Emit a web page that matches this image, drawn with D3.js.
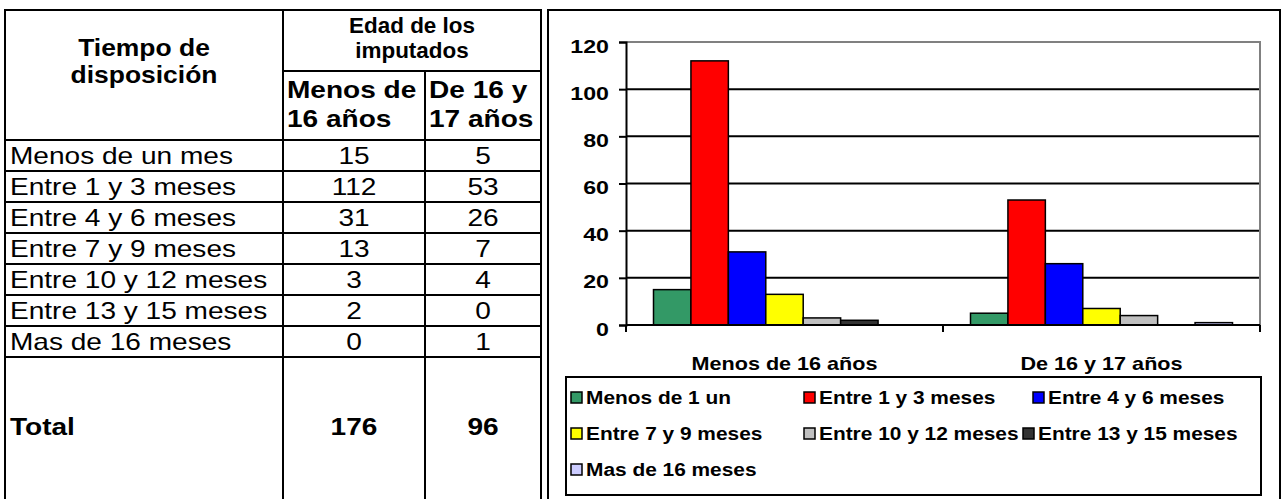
<!DOCTYPE html>
<html>
<head>
<meta charset="utf-8">
<script src="https://d3js.org/d3.v7.min.js"></script>
<style>
  body { margin: 0; background: #fff; }
  text { font-family: "Liberation Sans", Arial, sans-serif; fill: #000; }
</style>
</head>
<body>
<div id="chart"></div>
<script>

    // data
    var rowLabels = ["Menos de un mes", "Entre 1 y 3 meses", "Entre 4 y 6 meses", "Entre 7 y 9 meses",
        "Entre 10 y 12 meses", "Entre 13 y 15 meses", "Mas de 16 meses"]
    var legendLabels = ["Menos de 1 un", "Entre 1 y 3 meses", "Entre 4 y 6 meses", "Entre 7 y 9 meses",
        "Entre 10 y 12 meses", "Entre 13 y 15 meses", "Mas de 16 meses"]
    var groups = ["Menos de 16 años", "De 16 y 17 años"]
    var menos16 = [15, 112, 31, 13, 3, 2, 0]
    var de16y17 = [5, 53, 26, 7, 4, 0, 1]
    var totals = [176, 96]
    var yTicks = [0, 20, 40, 60, 80, 100, 120]
    var colors = ["#339966", "#ff0000", "#0000ff", "#ffff00", "#c0c0c0", "#333333", "#ccccff"]

    var W = 1285, H = 499
    var svg = d3.select("#chart").append("svg")
        .attr("width", W)
        .attr("height", H)

    svg.append("rect").attr("width", W).attr("height", H).attr("fill", "#fff")

    // text helper: the picture's text is stretched sideways, so scale x only
    function stext(parent, s, x, y, size, sx, anchor, bold) {
        return parent.append("text")
            .attr("transform", "translate(" + x + "," + y + ") scale(" + sx + ",1)")
            .attr("text-anchor", anchor)
            .attr("font-size", size)
            .attr("font-weight", bold ? "bold" : "normal")
            .text(s)
    }

    // ---------- table ----------
    var tb = { left: 5, c1: 283, c2: 425, right: 541, top: 10, sub: 71, head: 140, rowH: 31, bottom: 499 }
    var tbl = svg.append("g")

    function hline(x1, x2, y) {
        tbl.append("line").attr("x1", x1).attr("x2", x2).attr("y1", y).attr("y2", y)
            .attr("stroke", "#000").attr("stroke-width", 2)
    }
    function vline(x, y1, y2) {
        tbl.append("line").attr("x1", x).attr("x2", x).attr("y1", y1).attr("y2", y2)
            .attr("stroke", "#000").attr("stroke-width", 2)
    }

    hline(tb.left - 1, tb.right + 1, tb.top)
    hline(tb.c1, tb.right, tb.sub)
    hline(tb.left, tb.right, tb.head)
    rowLabels.forEach(function (d, i) {
        hline(tb.left, tb.right, tb.head + (i + 1) * tb.rowH)
    })
    vline(tb.left, tb.top, tb.bottom)
    vline(tb.c1, tb.top, tb.bottom)
    vline(tb.c2, tb.sub, tb.bottom)
    vline(tb.right, tb.top, tb.bottom)

    var FS = 23, SX = 1.22
    var mid1 = (tb.left + tb.c1) / 2
    stext(tbl, "Tiempo de", mid1, 56, FS, 1.15, "middle", true)
    stext(tbl, "disposición", mid1, 83, FS, 1.15, "middle", true)
    stext(tbl, "Edad de los", (tb.c1 + tb.right) / 2, 33, 22, 1.02, "middle", true)
    stext(tbl, "imputados", (tb.c1 + tb.right) / 2, 58, 22, 1.02, "middle", true)
    stext(tbl, "Menos de", tb.c1 + 4, 98, FS, SX, "start", true)
    stext(tbl, "16 años", tb.c1 + 4, 127, FS, SX, "start", true)
    stext(tbl, "De 16 y", tb.c2 + 4, 98, FS, SX, "start", true)
    stext(tbl, "17 años", tb.c2 + 4, 127, FS, SX, "start", true)

    var colA = (tb.c1 + tb.c2) / 2, colB = (tb.c2 + tb.right) / 2
    rowLabels.forEach(function (d, i) {
        var yy = tb.head + i * tb.rowH + tb.rowH / 2 + 8
        stext(tbl, d, tb.left + 5, yy, FS, SX, "start", false)
        stext(tbl, menos16[i], colA, yy, FS, SX, "middle", false)
        stext(tbl, de16y17[i], colB, yy, FS, SX, "middle", false)
    })
    var ty = 435
    stext(tbl, "Total", tb.left + 5, ty, FS, SX, "start", true)
    stext(tbl, totals[0], colA, ty, FS, SX, "middle", true)
    stext(tbl, totals[1], colB, ty, FS, SX, "middle", true)

    // ---------- chart ----------
    var frame = { left: 548, right: 1280, top: 10 }
    svg.append("polyline")
        .attr("points", [[frame.left, H], [frame.left, frame.top], [frame.right, frame.top], [frame.right, H]].join(" "))
        .attr("fill", "none").attr("stroke", "#000").attr("stroke-width", 2)

    var plot = { left: 626, right: 1260, top: 42, bottom: 325 }
    var g = svg.append("g")

    var y = d3.scaleLinear().domain([0, 120]).range([plot.bottom, plot.top])
    var x0 = d3.scaleBand().domain(groups).range([plot.left, plot.right])
    var x1 = d3.scaleBand().domain(d3.range(legendLabels.length))
        .range([27.5, x0.bandwidth() - 27.5])

    // gridlines
    g.selectAll(".grid")
        .data(yTicks.filter(function (d) { return d > 0 && d < 120 }))
        .enter().append("line")
        .attr("x1", plot.left).attr("x2", plot.right)
        .attr("y1", function (d) { return y(d) })
        .attr("y2", function (d) { return y(d) })
        .attr("stroke", "#000").attr("stroke-width", 2)

    // plot border (top and right in gray)
    g.append("polyline")
        .attr("points", [[plot.left, y(120)], [plot.right, y(120)], [plot.right, plot.bottom]].join(" "))
        .attr("fill", "none").attr("stroke", "#808080").attr("stroke-width", 2)

    // bars
    var series = [menos16, de16y17]
    groups.forEach(function (grp, gi) {
        var vals = series[gi].map(function (v, i) { return { i: i, v: v } })
            .filter(function (d) { return d.v > 0 })
        g.append("g")
            .attr("transform", "translate(" + x0(grp) + ",0)")
            .selectAll("rect")
            .data(vals)
            .enter().append("rect")
            .attr("x", function (d) { return x1(d.i) })
            .attr("y", function (d) { return y(d.v) })
            .attr("width", x1.bandwidth())
            .attr("height", function (d) { return y(0) - y(d.v) })
            .attr("fill", function (d) { return colors[d.i] })
            .attr("stroke", "#000").attr("stroke-width", 1.5)
    })

    // y axis
    var yAxis = g.append("g")
        .attr("transform", "translate(" + plot.left + ",0)")
        .call(d3.axisLeft(y).tickValues(yTicks).tickSize(7))
    yAxis.select(".domain").attr("stroke-width", 2)
    yAxis.selectAll(".tick line").attr("stroke-width", 2)
    yAxis.selectAll(".tick text")
        .attr("x", null).attr("dy", null)
        .attr("transform", "translate(-17,10) scale(1.22,1)")
        .attr("font-family", "Liberation Sans, Arial, sans-serif")
        .attr("font-size", 19).attr("font-weight", "bold")

    // x axis
    var xAxis = g.append("g")
        .attr("transform", "translate(0," + plot.bottom + ")")
    xAxis.append("line")
        .attr("x1", plot.left).attr("x2", plot.right)
        .attr("stroke", "#000").attr("stroke-width", 2)
    xAxis.selectAll(".xt")
        .data([plot.left, x0(groups[1]), plot.right])
        .enter().append("line")
        .attr("x1", function (d) { return d }).attr("x2", function (d) { return d })
        .attr("y1", 0).attr("y2", 7)
        .attr("stroke", "#000").attr("stroke-width", 2)
    groups.forEach(function (d) {
        stext(xAxis, d, x0(d) + x0.bandwidth() / 2, 45, 18, 1.2, "middle", true)
    })

    // legend
    var lg = svg.append("g")
    lg.append("rect")
        .attr("x", 566).attr("y", 377).attr("width", 1261 - 566).attr("height", 118)
        .attr("fill", "#fff").attr("stroke", "#000").attr("stroke-width", 2)
    var colX = [[571, 804, 1033], [571, 804, 1023], [571]]
    var rowY = [397, 433, 469]
    legendLabels.forEach(function (d, i) {
        var r = Math.floor(i / 3), c = i % 3
        var item = lg.append("g").attr("transform", "translate(" + colX[r][c] + "," + rowY[r] + ")")
        item.append("rect")
            .attr("x", 0).attr("y", -5).attr("width", 11).attr("height", 11)
            .attr("fill", colors[i]).attr("stroke", "#000").attr("stroke-width", 1.5)
        stext(item, d, 15, 7, 18, 1.16, "start", true)
    })

</script>
</body>
</html>
